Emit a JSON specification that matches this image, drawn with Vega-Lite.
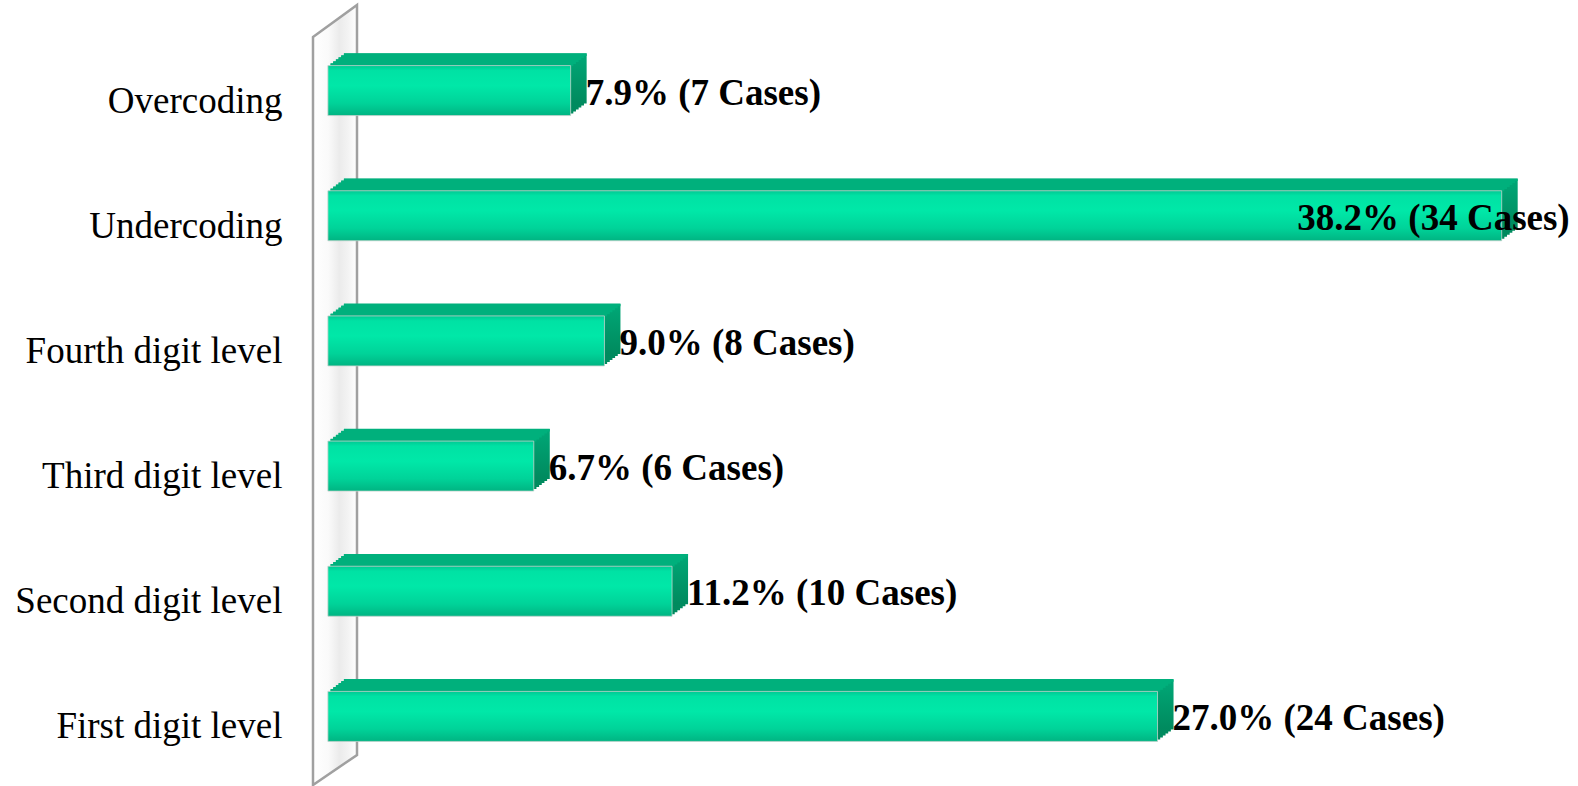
{
  "$schema": "https://vega.github.io/schema/vega-lite/v6.json",
  "width": 1246,
  "height": 751,
  "autosize": {"type": "none"},
  "padding": {"left": 311, "top": 28, "right": 21, "bottom": 7},
  "background": "white",
  "config": {"view": {"stroke": null}, "font": "Liberation Serif"},
  "datasets": {
    "bars": [
      {"cat": "Overcoding", "pct": 7.9, "label": "7.9% (7 Cases)"},
      {"cat": "Undercoding", "pct": 38.2, "label": "38.2% (34 Cases)"},
      {"cat": "Fourth digit level", "pct": 9.0, "label": "9.0% (8 Cases)"},
      {"cat": "Third digit level", "pct": 6.7, "label": "6.7% (6 Cases)"},
      {"cat": "Second digit level", "pct": 11.2, "label": "11.2% (10 Cases)"},
      {"cat": "First digit level", "pct": 27.0, "label": "27.0% (24 Cases)"}
    ],
    "wall": [
      {"wx": -0.485, "lo": -0.8, "hi": 98.8},
      {"wx": 0.947, "lo": 3.2, "hi": 103.06}
    ]
  },
  "resolve": {"scale": {"y": "independent"}},
  "layer": [
    {
      "data": {"name": "wall"},
      "mark": {
        "type": "area",
        "orient": "vertical",
        "stroke": "#a0a0a0",
        "strokeWidth": 2.5,
        "fill": {
          "gradient": "linear", "x1": 0, "y1": 0, "x2": 1, "y2": 0,
          "stops": [
            {"offset": 0, "color": "#ffffff"},
            {"offset": 0.35, "color": "#fafafa"},
            {"offset": 0.6, "color": "#ebebeb"},
            {"offset": 0.8, "color": "#f3f3f3"},
            {"offset": 1, "color": "#ffffff"}
          ]
        }
      },
      "encoding": {
        "x": {"field": "wx", "type": "quantitative", "scale": {"domain": [-0.55, 40], "nice": false, "zero": false}, "axis": null},
        "y": {"field": "hi", "type": "quantitative", "scale": {"domain": [0, 100], "nice": false, "zero": false}, "axis": null},
        "y2": {"field": "lo"}
      }
    },
    {
      "data": {"name": "bars"},
      "encoding": {
        "x": {"field": "pct", "type": "quantitative", "scale": {"domain": [-0.55, 40], "nice": false, "zero": false}, "axis": null},
        "x2": {"datum": 0},
        "y": {
          "field": "cat", "type": "nominal",
          "sort": ["Overcoding", "Undercoding", "Fourth digit level", "Third digit level", "Second digit level", "First digit level"],
          "scale": {"paddingInner": 0.6, "paddingOuter": 0.3},
          "axis": {"orient": "left", "title": null, "domain": false, "ticks": false, "grid": false, "labelFont": "Liberation Serif", "labelFontSize": 37, "labelColor": "#000000", "labelPadding": 29, "labelOffset": 11, "labelLimit": 400}
        }
      },
      "layer": [
        {"mark": {"type": "bar", "height": 50, "xOffset": 2.667, "x2Offset": 2.667, "yOffset": -2, "fill": {"gradient": "linear", "x1": 0, "y1": 0, "x2": 0, "y2": 1, "stops": [{"offset": 0, "color": "#00a877"}, {"offset": 1, "color": "#008a5e"}]}}},
        {"mark": {"type": "bar", "height": 50, "xOffset": 5.333, "x2Offset": 5.333, "yOffset": -4, "fill": {"gradient": "linear", "x1": 0, "y1": 0, "x2": 0, "y2": 1, "stops": [{"offset": 0, "color": "#00a877"}, {"offset": 1, "color": "#008a5e"}]}}},
        {"mark": {"type": "bar", "height": 50, "xOffset": 8, "x2Offset": 8, "yOffset": -6, "fill": {"gradient": "linear", "x1": 0, "y1": 0, "x2": 0, "y2": 1, "stops": [{"offset": 0, "color": "#00a877"}, {"offset": 1, "color": "#008a5e"}]}}},
        {"mark": {"type": "bar", "height": 50, "xOffset": 10.667, "x2Offset": 10.667, "yOffset": -8, "fill": {"gradient": "linear", "x1": 0, "y1": 0, "x2": 0, "y2": 1, "stops": [{"offset": 0, "color": "#00a877"}, {"offset": 1, "color": "#008a5e"}]}}},
        {"mark": {"type": "bar", "height": 50, "xOffset": 13.333, "x2Offset": 13.333, "yOffset": -10, "fill": {"gradient": "linear", "x1": 0, "y1": 0, "x2": 0, "y2": 1, "stops": [{"offset": 0, "color": "#00a877"}, {"offset": 1, "color": "#008a5e"}]}}},
        {"mark": {"type": "bar", "height": 50, "xOffset": 16, "x2Offset": 16, "yOffset": -12, "fill": {"gradient": "linear", "x1": 0, "y1": 0, "x2": 0, "y2": 1, "stops": [{"offset": 0, "color": "#00a877"}, {"offset": 1, "color": "#008a5e"}]}}},
        {"mark": {"type": "bar", "height": 2.6, "xOffset": 2.667, "x2Offset": 2.667, "yOffset": -26, "fill": "#00b07c"}},
        {"mark": {"type": "bar", "height": 2.6, "xOffset": 5.333, "x2Offset": 5.333, "yOffset": -28, "fill": "#00b07c"}},
        {"mark": {"type": "bar", "height": 2.6, "xOffset": 8, "x2Offset": 8, "yOffset": -30, "fill": "#00b07c"}},
        {"mark": {"type": "bar", "height": 2.6, "xOffset": 10.667, "x2Offset": 10.667, "yOffset": -32, "fill": "#00b07c"}},
        {"mark": {"type": "bar", "height": 2.6, "xOffset": 13.333, "x2Offset": 13.333, "yOffset": -34, "fill": "#00b07c"}},
        {"mark": {"type": "bar", "height": 2.6, "xOffset": 16, "x2Offset": 16, "yOffset": -36, "fill": "#00b07c"}},
        {
          "mark": {
            "type": "bar", "height": 50, "stroke": "#c4d2cc", "strokeWidth": 0.8,
            "fill": {"gradient": "linear", "x1": 0, "y1": 0, "x2": 0, "y2": 1,
              "stops": [
                {"offset": 0, "color": "#00c892"},
                {"offset": 0.1, "color": "#00e2a4"},
                {"offset": 0.4, "color": "#00e8a8"},
                {"offset": 0.75, "color": "#00d399"},
                {"offset": 1, "color": "#00b482"}
              ]}
          }
        },
        {
          "transform": [{"filter": "datum.pct < 30"}],
          "mark": {"type": "text", "align": "left", "baseline": "middle", "dx": 15, "dy": 3, "font": "Liberation Serif", "fontSize": 37, "fontWeight": "bold", "color": "#000000"},
          "encoding": {"text": {"field": "label"}, "x2": null}
        },
        {
          "transform": [{"filter": "datum.pct >= 30"}],
          "mark": {"type": "text", "align": "right", "baseline": "middle", "dx": 68, "dy": 3, "font": "Liberation Serif", "fontSize": 37, "fontWeight": "bold", "color": "#000000"},
          "encoding": {"text": {"field": "label"}, "x2": null}
        }
      ]
    }
  ]
}
